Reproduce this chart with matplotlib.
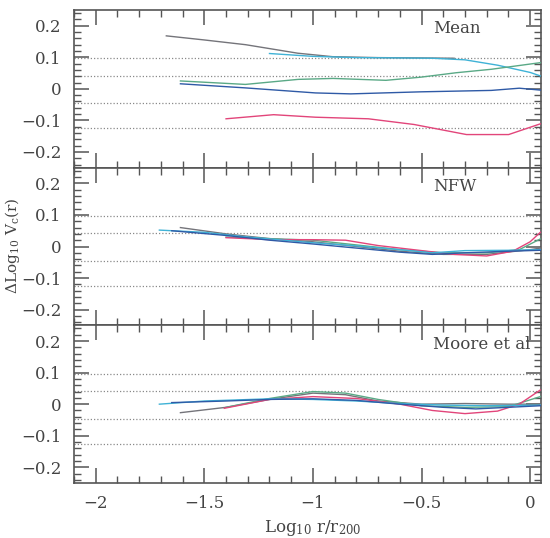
import matplotlib
matplotlib.use("Agg")
import matplotlib.pyplot as plt
from matplotlib.ticker import MultipleLocator, FixedLocator, FuncFormatter

plt.rcParams['font.family'] = ['DejaVu Serif']
plt.rcParams['mathtext.fontset'] = 'dejavuserif'

panel_titles = ["Mean", "NFW", "Moore et al"]
ref_levels = [0.0969, 0.0414, -0.0458, -0.1249]
x_ticks = [-2, -1.5, -1, -0.5, 0]
y_ticks = [-0.2, -0.1, 0, 0.1, 0.2]

col_gray = "#74747a"
col_cyan = "#3fb2d6"
col_blue = "#2f5aa6"
col_green = "#5aa986"
col_pink = "#e2457a"

# ---- Mean panel ----
mean_gray_x = [-1.675, -1.5, -1.31, -1.07, -0.91, -0.7, -0.5, -0.35]
mean_gray_y = [0.168, 0.155, 0.140, 0.113, 0.102, 0.099, 0.098, 0.097]
mean_cyan_x = [-1.2, -1.0, -0.8, -0.6, -0.45, -0.3, -0.15, 0.0, 0.047]
mean_cyan_y = [0.112, 0.103, 0.099, 0.098, 0.097, 0.092, 0.075, 0.052, 0.041]
mean_green_x = [-1.61, -1.311, -1.068, -0.907, -0.664, -0.503, -0.341, -0.179, 0.047]
mean_green_y = [0.025, 0.014, 0.030, 0.033, 0.027, 0.037, 0.051, 0.062, 0.083]
mean_blue_x = [-1.61, -1.311, -0.988, -0.826, -0.503, -0.179, -0.05, 0.047]
mean_blue_y = [0.016, 0.003, -0.013, -0.016, -0.0095, -0.005, 0.002, -0.004]
mean_pink_x = [-1.40, -1.181, -0.988, -0.745, -0.535, -0.293, -0.099, 0.047]
mean_pink_y = [-0.095, -0.082, -0.090, -0.095, -0.113, -0.145, -0.145, -0.111]

# ---- NFW panel ----
nfw_gray_x = [-1.61, -1.4, -1.2, -1.0, -0.8, -0.6, -0.4, -0.2, 0.0, 0.047]
nfw_gray_y = [0.060, 0.040, 0.025, 0.015, 0.000, -0.015, -0.025, -0.025, -0.010, -0.005]
nfw_cyan_x = [-1.707, -1.5, -1.3, -1.0, -0.8, -0.6, -0.45, -0.3, -0.1, 0.047]
nfw_cyan_y = [0.052, 0.045, 0.030, 0.012, 0.002, -0.010, -0.020, -0.013, -0.012, -0.010]
nfw_blue_x = [-1.65, -1.4, -1.2, -1.0, -0.8, -0.6, -0.45, -0.3, -0.1, 0.047]
nfw_blue_y = [0.050, 0.035, 0.020, 0.008, -0.005, -0.018, -0.025, -0.020, -0.015, -0.012]
nfw_green_x = [-1.4, -1.0, -0.8, -0.6, -0.4, -0.2, -0.05, 0.047]
nfw_green_y = [0.030, 0.020, 0.005, -0.010, -0.020, -0.020, -0.010, 0.024]
nfw_pink_x = [-1.4, -1.2, -1.0, -0.85, -0.7, -0.5, -0.35, -0.2, -0.08, 0.0, 0.047]
nfw_pink_y = [0.028, 0.022, 0.0216, 0.020, 0.003, -0.013, -0.025, -0.030, -0.015, 0.015, 0.045]

# ---- Moore et al panel ----
moo_cyan_x = [-1.707, -1.5, -1.2, -1.0, -0.8, -0.6, -0.4, -0.2, 0.047]
moo_cyan_y = [0.000, 0.010, 0.017, 0.015, 0.010, 0.002, -0.003, -0.005, -0.003]
moo_blue_x = [-1.65, -1.4, -1.2, -1.0, -0.8, -0.6, -0.4, -0.25, -0.1, 0.047]
moo_blue_y = [0.005, 0.010, 0.015, 0.017, 0.012, 0.000, -0.010, -0.015, -0.010, -0.005]
moo_gray_x = [-1.61, -1.4, -1.2, -1.0, -0.85, -0.7, -0.5, -0.3, -0.1, 0.047]
moo_gray_y = [-0.027, -0.010, 0.015, 0.035, 0.030, 0.010, 0.000, 0.002, 0.000, 0.000]
moo_green_x = [-1.4, -1.2, -1.0, -0.85, -0.7, -0.5, -0.3, -0.1, 0.047]
moo_green_y = [-0.010, 0.018, 0.040, 0.035, 0.015, -0.005, -0.010, -0.008, 0.024]
moo_pink_x = [-1.408, -1.2, -1.0, -0.8, -0.6, -0.45, -0.3, -0.15, -0.05, 0.047]
moo_pink_y = [-0.013, 0.015, 0.024, 0.018, 0.000, -0.020, -0.030, -0.022, 0.000, 0.045]

panels = [
    [(mean_gray_x, mean_gray_y, col_gray), (mean_cyan_x, mean_cyan_y, col_cyan),
     (mean_green_x, mean_green_y, col_green), (mean_blue_x, mean_blue_y, col_blue),
     (mean_pink_x, mean_pink_y, col_pink)],
    [(nfw_gray_x, nfw_gray_y, col_gray), (nfw_green_x, nfw_green_y, col_green),
     (nfw_pink_x, nfw_pink_y, col_pink), (nfw_cyan_x, nfw_cyan_y, col_cyan),
     (nfw_blue_x, nfw_blue_y, col_blue)],
    [(moo_gray_x, moo_gray_y, col_gray), (moo_green_x, moo_green_y, col_green),
     (moo_pink_x, moo_pink_y, col_pink), (moo_cyan_x, moo_cyan_y, col_cyan),
     (moo_blue_x, moo_blue_y, col_blue)],
]

W, H = 550, 538
fig = plt.figure(figsize=(W / 100, H / 100), dpi=100)
left, right, top, bottom = 74 / W, 541 / W, 1 - 10 / H, 1 - 483 / H
ph = (top - bottom) / 3
axcol = "#555555"

def yfmt(v, pos):
    if abs(v) < 1e-9:
        return "0"
    return ("\u2212" if v < 0 else "") + f"{abs(v):.1f}"

def xfmt(v, pos):
    if abs(v) < 1e-9:
        return "0"
    s = f"{abs(v):g}"
    return ("\u2212" if v < 0 else "") + s

axes = []
for i in range(3):
    ax = fig.add_axes([left, top - (i + 1) * ph, right - left, ph])
    axes.append(ax)
    ax.set_xlim(-2.1, 0.05)
    ax.set_ylim(-0.25, 0.25)
    for lv in ref_levels:
        ax.axhline(lv, color="#8a8a8a", lw=0.9, ls=(0, (1, 1.6)), zorder=1)
    for xs, ys, c in panels[i]:
        ax.plot(xs, ys, color=c, lw=1.0, zorder=3)
    ax.xaxis.set_major_locator(FixedLocator(x_ticks))
    ax.xaxis.set_minor_locator(MultipleLocator(0.1))
    ax.yaxis.set_major_locator(FixedLocator(y_ticks))
    ax.yaxis.set_minor_locator(MultipleLocator(0.02))
    ax.tick_params(which='both', direction='in', top=True, right=True, colors=axcol,
                   labelcolor="#444444", labelsize=12)
    ax.tick_params(which='major', length=11, width=1.1)
    ax.tick_params(which='minor', length=5, width=1.0)
    ax.tick_params(axis='y', pad=9)
    ax.tick_params(axis='x', pad=9)
    ax.yaxis.set_major_formatter(FuncFormatter(yfmt))
    for s in ax.spines.values():
        s.set_color(axcol)
        s.set_linewidth(1.2)
    if i < 2:
        ax.tick_params(labelbottom=False)
    else:
        ax.xaxis.set_major_formatter(FuncFormatter(xfmt))
    ax.text(-0.447, 0.88, panel_titles[i], transform=ax.get_xaxis_transform(),
            ha='left', va='center', fontsize=12, color="#444444", clip_on=False)

axes[2].set_xlabel(r'Log$_{10}$ r/r$_{200}$', fontsize=12, color="#444444")
axes[2].xaxis.set_label_coords(0.5 + 5 / 467, -0.225)
fig.text(12 / W, 1 - 246 / H, r'$\Delta$Log$_{10}$ V$_{\rm c}$(r)', rotation=90,
         ha='center', va='center', fontsize=11, color="#444444")

fig.savefig("out.png", dpi=100)
